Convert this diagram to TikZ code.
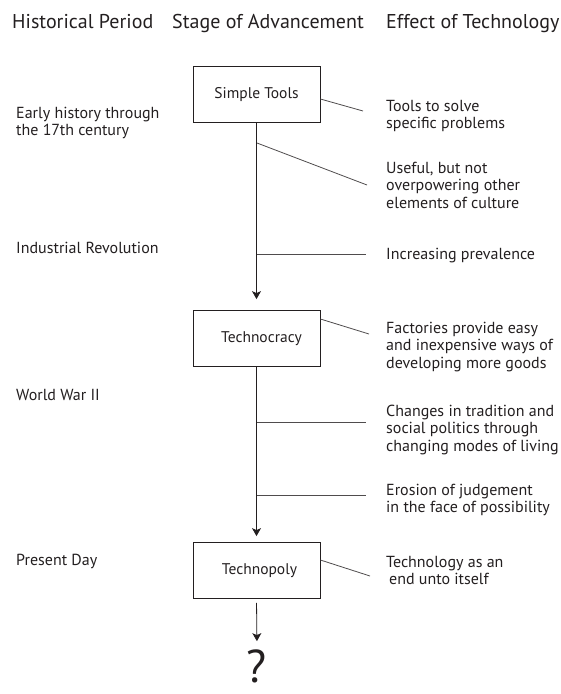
\documentclass[tikz,border=0pt]{standalone}
\usepackage{fontspec}
\setmainfont{PT Sans}
\usetikzlibrary{positioning,arrows.meta}
\definecolor{ink}{HTML}{231F20}

\tikzset{
  heading/.style={anchor=base west, inner sep=0pt, text=ink, font=\fontsize{20}{22}\selectfont},
  period/.style={anchor=base west, align=left, inner sep=0pt, text=ink, font=\fontsize{16}{17.5}\selectfont},
  effect/.style={period},
  stage/.style={draw=ink, line width=0.8pt, minimum width=127pt, minimum height=56pt, text=ink, font=\fontsize{15.5}{17.5}\selectfont},
  flow/.style={draw=ink, line width=0.8pt, -{Stealth[length=8pt,width=9pt,inset=2pt]}},
  link/.style={draw=ink!80, line width=0.8pt}
}

\begin{document}
\begin{tikzpicture}[x=1pt,y=-1pt]
\useasboundingbox (0,0) rectangle (561,694);
% column headings
\node[heading] (hperiod) at (12,28) {Historical Period};
\node[heading] (hstage) at (172,28) {Stage of Advancement};
\node[heading] (heffect) at (386,28) {Effect of Technology};

% stages
\node[stage] (simple) at (256.5,94.5) {Simple Tools};
\node[stage] (crat) at (256.5,338.5) {\hspace*{10pt}Technocracy};
\node[stage] (poly) at (256.5,570.5) {\hspace*{6pt}Technopoly};
\node[inner sep=0pt, text=ink, font=\fontsize{46}{50}\selectfont] (qmark) at (257,666) {?};

% historical periods (base = last line)
\node[period] (early) at (16,135.5) {Early history through\\the 17th century};
\node[period] (indus) at (16,253) {Industrial Revolution};
\node[period] (wwii) at (16,400) {World War II};
\node[period] (today) at (16,565) {Present Day};

% effects
\node[effect] (tools) at (386,128.5) {Tools to solve\\specific problems};
\node[effect] (useful) at (386,208) {Useful, but not\\overpowering other\\elements of culture};
\node[effect] (preval) at (386,259) {Increasing prevalence};
\node[effect] (factory) at (386,368) {Factories provide easy\\and inexpensive ways of\\developing more goods};
\node[effect] (change) at (386,451) {Changes in tradition and\\social politics through\\changing modes of living};
\node[effect] (erosion) at (386,512.5) {Erosion of judgement\\in the face of possibility};
\node[effect] (endin) at (386,584.5) {Technology as an\\\hspace*{3pt}end unto itself};

% main flow
\draw[flow, shorten >=11pt] (simple.south) -- (crat.north);
\draw[flow, shorten >=6pt] (crat.south) -- (poly.north);
\draw[flow, shorten <=4pt, shorten >=8pt] (poly.south) -- (qmark.north);

% branches
\coordinate (b1) at (257,143);
\coordinate (b2) at (257,254);
\coordinate (b3) at (257,422);
\coordinate (b4) at (257,495);
\coordinate (e1) at (363,111);
\coordinate (e2) at (367,185);
\coordinate (e3) at (369,334);
\coordinate (e4) at (370,576);
\draw[link] ([yshift=-4.5pt]simple.east) -- (e1);
\draw[link] (b1) -- (e2);
\foreach \b in {b2,b3,b4}
{       \draw[link] (\b) -- ++(109,0);
}
\draw[link] ([yshift=19.5pt]crat.east) -- (e3);
\draw[link] ([yshift=10.5pt]poly.east) -- (e4);
\end{tikzpicture}
\end{document}
